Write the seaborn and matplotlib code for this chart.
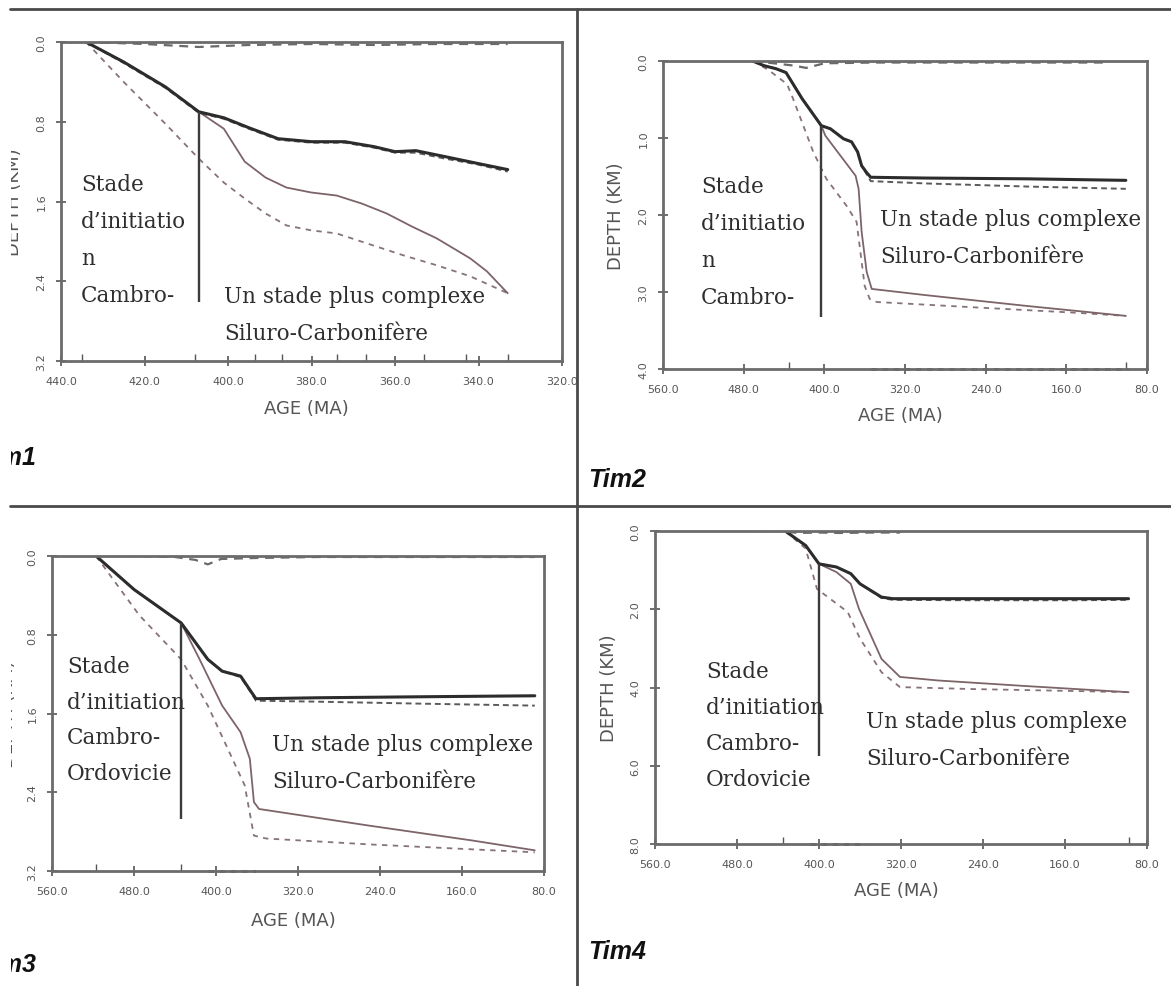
import matplotlib
matplotlib.use("Agg")
import matplotlib.pyplot as plt
import matplotlib.ticker as mticker
from matplotlib.lines import Line2D
from matplotlib.transforms import Bbox, TransformedBbox
import seaborn as sns

sns.set_theme(style="white")
plt.rcParams["font.family"] = ["DejaVu Sans"]

W, H = 1171, 987

# ---------------- data ----------------
# Tim1
t1_top_age = [434, 420, 407, 395, 380, 365, 350, 333]
t1_top_dep = [0.0, 0.02, 0.05, 0.03, 0.02, 0.03, 0.02, 0.02]
t1_thk_age = [434, 425, 415, 407, 401, 395, 388, 380, 372, 365, 360, 355, 348, 340, 333]
t1_thk_dep = [0.0, 0.2, 0.45, 0.70, 0.76, 0.86, 0.97, 1.0, 1.0, 1.05, 1.1, 1.09, 1.15, 1.22, 1.28]
t1_sed_dep = [0.0, 0.21, 0.46, 0.71, 0.77, 0.87, 0.98, 1.01, 1.01, 1.06, 1.11, 1.11, 1.17, 1.23, 1.30]
t1_tec_age = [434, 425, 415, 407, 401, 396, 391, 386, 380, 374, 368, 362, 356, 350, 342, 338, 333]
t1_tec_dep = [0.0, 0.2, 0.45, 0.70, 0.87, 1.2, 1.36, 1.46, 1.51, 1.54, 1.62, 1.72, 1.85, 1.97, 2.17, 2.3, 2.52]
t1_low_age = [434, 425, 415, 407, 401, 396, 391, 386, 380, 374, 366, 358, 350, 342, 333]
t1_low_dep = [0.0, 0.4, 0.82, 1.17, 1.41, 1.57, 1.72, 1.84, 1.89, 1.92, 2.03, 2.14, 2.24, 2.35, 2.52]
t1_stage = [407, 0.70, 2.61]
t1_horizons = [435, 408, 393.5, 387, 374, 367, 353, 343, 333]
t1_xticks = [440, 420, 400, 380, 360, 340, 320]
t1_yticks = [0.0, 0.8, 1.6, 2.4, 3.2]

# Tim2
t2_top_age = [471, 450, 430, 418, 400, 350, 250, 150, 119]
t2_top_dep = [0.0, 0.03, 0.06, 0.09, 0.03, 0.02, 0.02, 0.02, 0.02]
t2_thk_age = [471, 460, 448, 438, 422, 403, 394, 381, 373, 367, 363, 358, 354, 300, 200, 101]
t2_thk_dep = [0.0, 0.06, 0.1, 0.15, 0.49, 0.84, 0.88, 1.01, 1.05, 1.18, 1.36, 1.45, 1.51, 1.52, 1.53, 1.55]
t2_sed_dep = [0.0, 0.06, 0.1, 0.15, 0.49, 0.84, 0.88, 1.01, 1.05, 1.18, 1.36, 1.47, 1.56, 1.59, 1.63, 1.66]
t2_tec_age = [471, 460, 448, 438, 422, 403, 399, 384, 369, 366, 363, 358, 353, 300, 200, 101]
t2_tec_dep = [0.0, 0.06, 0.1, 0.15, 0.49, 0.84, 0.97, 1.23, 1.49, 1.66, 2.22, 2.74, 2.96, 3.04, 3.18, 3.31]
t2_low_age = [471, 455, 437, 431, 411, 398, 378, 368, 365, 360, 355, 348, 250, 150, 101]
t2_low_dep = [0.0, 0.12, 0.3, 0.49, 1.18, 1.53, 1.88, 2.09, 2.4, 2.92, 3.09, 3.13, 3.2, 3.27, 3.31]
t2_stage = [403, 0.84, 3.32]
t2_base_age = [354, 99]
t2_base_dep = [4.0, 4.0]
t2_horizons = [435, 101]
t2_xticks = [560, 480, 400, 320, 240, 160, 80]
t2_yticks = [0.0, 1.0, 2.0, 3.0, 4.0]

# Tim3
t3_top_age = [517, 480, 440, 420, 408, 395, 360, 300, 200, 89]
t3_top_dep = [0.0, 0.0, 0.01, 0.04, 0.085, 0.03, 0.02, 0.01, 0.01, 0.01]
t3_thk_age = [517, 480, 434, 408, 394, 376, 365, 361, 300, 200, 89]
t3_thk_dep = [0.0, 0.34, 0.68, 1.05, 1.17, 1.22, 1.39, 1.45, 1.44, 1.43, 1.42]
t3_sed_dep = [0.0, 0.34, 0.68, 1.05, 1.17, 1.23, 1.40, 1.47, 1.48, 1.50, 1.52]
t3_tec_age = [517, 480, 434, 416, 394, 376, 367, 363, 358, 250, 150, 89]
t3_tec_dep = [0.0, 0.34, 0.68, 1.05, 1.52, 1.79, 2.06, 2.5, 2.57, 2.74, 2.89, 2.99]
t3_low_age = [517, 475, 434, 408, 372, 363, 351, 250, 150, 89]
t3_low_dep = [0.0, 0.6, 1.05, 1.52, 2.33, 2.84, 2.87, 2.93, 2.98, 3.01]
t3_stage = [434, 0.68, 2.67]
t3_base_age = [408, 361]
t3_base_dep = [3.2, 3.2]
t3_horizons = [517, 434]
t3_xticks = [560, 480, 400, 320, 240, 160, 80]
t3_yticks = [0.0, 0.8, 1.6, 2.4, 3.2]

# Tim4
t4_top_age = [461, 440, 420, 400, 380, 350, 321]
t4_top_dep = [0.0, 0.0, 0.05, 0.04, 0.05, 0.04, 0.04]
t4_thk_age = [433, 413, 400, 383, 369, 360, 339, 328, 250, 150, 98]
t4_thk_dep = [0.0, 0.37, 0.84, 0.92, 1.09, 1.35, 1.69, 1.73, 1.73, 1.73, 1.73]
t4_sed_dep = [0.0, 0.37, 0.84, 0.92, 1.09, 1.35, 1.71, 1.76, 1.77, 1.77, 1.76]
t4_tec_age = [433, 413, 400, 383, 369, 361, 339, 321, 284, 200, 98]
t4_tec_dep = [0.0, 0.37, 0.84, 1.05, 1.35, 1.99, 3.27, 3.73, 3.82, 3.96, 4.12]
t4_low_age = [433, 413, 402, 372, 360, 339, 321, 250, 150, 98]
t4_low_dep = [0.0, 0.45, 1.48, 2.07, 2.75, 3.61, 3.99, 4.04, 4.09, 4.12]
t4_stage = [400, 0.84, 5.74]
t4_base_age = [409, 354]
t4_base_dep = [8.0, 8.0]
t4_horizons = [435, 98]
t4_xticks = [560, 480, 400, 320, 240, 160, 80]
t4_yticks = [0.0, 2.0, 4.0, 6.0, 8.0]

stage1_label = "Stade\nd’initiatio\nn\nCambro-"
stage2_label = "Stade\nd’initiation\nCambro-\nOrdovicie"
complex_label = "Un stade plus complexe\nSiluro-Carbonifère"

# ---------------- drawing ----------------
fig = plt.figure(figsize=(W / 100, H / 100), dpi=100)
fig.patch.set_facecolor("white")

# the scanned page is cut at x ~ 10 px: anything left of it is lost
page_clip = TransformedBbox(Bbox.from_extents(10.5 / W, 0, 1, 1), fig.transFigure)


def px_axes(x0, y0, x1, y1):
    return fig.add_axes([x0 / W, 1 - y1 / H, (x1 - x0) / W, (y1 - y0) / H])


def fig_text(x, y, s, **kw):
    return fig.text(x / W, 1 - y / H, s, **kw)


def draw_panel(ax, top, thk, sed, tec, low, stage, xticks, yticks, horizons,
               base=None, ylab_x=-0.077, xlab_y=-0.12):
    sns.lineplot(x=top[0], y=top[1], ax=ax, color="#6a6a6a", linewidth=1.6,
                 linestyle=(0, (4, 3)), sort=False, estimator=None)
    sns.lineplot(x=low[0], y=low[1], ax=ax, color="#86727a", linewidth=1.3,
                 linestyle=(0, (3, 3)), sort=False, estimator=None)
    sns.lineplot(x=tec[0], y=tec[1], ax=ax, color="#7d6468", linewidth=1.3,
                 sort=False, estimator=None)
    sns.lineplot(x=sed[0], y=sed[1], ax=ax, color="#5a5a5a", linewidth=1.4,
                 linestyle=(0, (3, 2)), sort=False, estimator=None)
    sns.lineplot(x=thk[0], y=thk[1], ax=ax, color="#2c2c2c", linewidth=2.2,
                 sort=False, estimator=None)
    if base is not None:
        ax.plot(base[0], base[1], color="#555555", linewidth=2.0,
                linestyle=(0, (2, 2)), clip_on=False)
    ax.vlines(stage[0], stage[1], stage[2], color="#3c3c3c", linewidth=1.7)

    ax.set_xlim(xticks[0], xticks[-1])
    ax.set_ylim(yticks[-1], yticks[0])
    ax.set_xticks(xticks)
    ax.set_yticks(yticks)
    ax.xaxis.set_major_formatter(mticker.FormatStrFormatter("%.1f"))
    ax.yaxis.set_major_formatter(mticker.FormatStrFormatter("%.1f"))
    ax.xaxis.set_minor_locator(mticker.FixedLocator(horizons))
    ax.tick_params(which="major", direction="inout", length=7, width=1.2,
                   colors="#555555", labelsize=8, pad=7,
                   bottom=True, left=True)
    ax.tick_params(which="minor", axis="x", direction="in", length=5,
                   width=1.0, colors="#555555", bottom=True)
    ax.tick_params(axis="y", labelrotation=90)
    for lab in ax.get_yticklabels():
        lab.set_va("center")
    for sp in ax.spines.values():
        sp.set_color("#6b6b6b")
        sp.set_linewidth(2.0)
    ax.set_xlabel("AGE (MA)", fontsize=13, color="#555555")
    ax.set_ylabel("DEPTH (KM)", fontsize=13, color="#555555")
    ax.xaxis.set_label_coords(0.49, xlab_y)
    ax.yaxis.set_label_coords(ylab_x, 0.5)
    ax.yaxis.label.set_clip_box(page_clip)
    ax.yaxis.label.set_clip_on(True)
    ax.set_facecolor("white")


ax1 = px_axes(61, 43, 562, 362)
draw_panel(ax1, (t1_top_age, t1_top_dep), (t1_thk_age, t1_thk_dep),
           (t1_thk_age, t1_sed_dep), (t1_tec_age, t1_tec_dep),
           (t1_low_age, t1_low_dep), t1_stage, t1_xticks, t1_yticks,
           t1_horizons, ylab_x=-0.076, xlab_y=-0.119)

ax2 = px_axes(663, 62, 1147, 370)
draw_panel(ax2, (t2_top_age, t2_top_dep), (t2_thk_age, t2_thk_dep),
           (t2_thk_age, t2_sed_dep), (t2_tec_age, t2_tec_dep),
           (t2_low_age, t2_low_dep), t2_stage, t2_xticks, t2_yticks,
           t2_horizons, base=(t2_base_age, t2_base_dep),
           ylab_x=-0.079, xlab_y=-0.12)

ax3 = px_axes(52, 557, 544, 872)
draw_panel(ax3, (t3_top_age, t3_top_dep), (t3_thk_age, t3_thk_dep),
           (t3_thk_age, t3_sed_dep), (t3_tec_age, t3_tec_dep),
           (t3_low_age, t3_low_dep), t3_stage, t3_xticks, t3_yticks,
           t3_horizons, base=(t3_base_age, t3_base_dep),
           ylab_x=-0.072, xlab_y=-0.127)

ax4 = px_axes(655, 532, 1147, 845)
draw_panel(ax4, (t4_top_age, t4_top_dep), (t4_thk_age, t4_thk_dep),
           (t4_thk_age, t4_sed_dep), (t4_tec_age, t4_tec_dep),
           (t4_low_age, t4_low_dep), t4_stage, t4_xticks, t4_yticks,
           t4_horizons, base=(t4_base_age, t4_base_dep),
           ylab_x=-0.075, xlab_y=-0.118)

# stage annotations (serif, like the word-processor text boxes)
serif = dict(fontsize=15.5, family="DejaVu Serif", color="#2e2e2e",
             va="top", ha="left", linespacing=1.88)
fig_text(81, 174, stage1_label, **serif)
fig_text(224, 286, complex_label, **serif)
fig_text(701, 176, stage1_label, **serif)
fig_text(880, 209, complex_label, **serif)
fig_text(67, 656, stage2_label, **dict(serif, linespacing=1.8))
fig_text(272, 734, complex_label, **serif)
fig_text(706, 661, stage2_label, **dict(serif, linespacing=1.82))
fig_text(866, 711, complex_label, **serif)

# panel names (the left ones are cut by the page edge)
name = dict(fontsize=18, fontweight="bold", fontstyle="italic",
            family=["Liberation Sans", "DejaVu Sans"], color="#111111",
            va="baseline", ha="left")
for x, y, s in [(-22, 465, "Tim1"), (588, 487, "Tim2"),
                (-22, 972, "Tim3"), (588, 959, "Tim4")]:
    t = fig_text(x, y, s, **name)
    t.set_clip_box(page_clip)
    t.set_clip_on(True)

# table borders
border = dict(color="#4a4a4a", linewidth=2.0)
fig.add_artist(Line2D([10 / W, 1], [1 - 10 / H, 1 - 10 / H], **border))
fig.add_artist(Line2D([10 / W, 1], [1 - 507 / H, 1 - 507 / H], **border))
fig.add_artist(Line2D([577 / W, 577 / W], [0, 1 - 10 / H], **border))

fig.savefig("out.png", dpi=100, facecolor="white")
